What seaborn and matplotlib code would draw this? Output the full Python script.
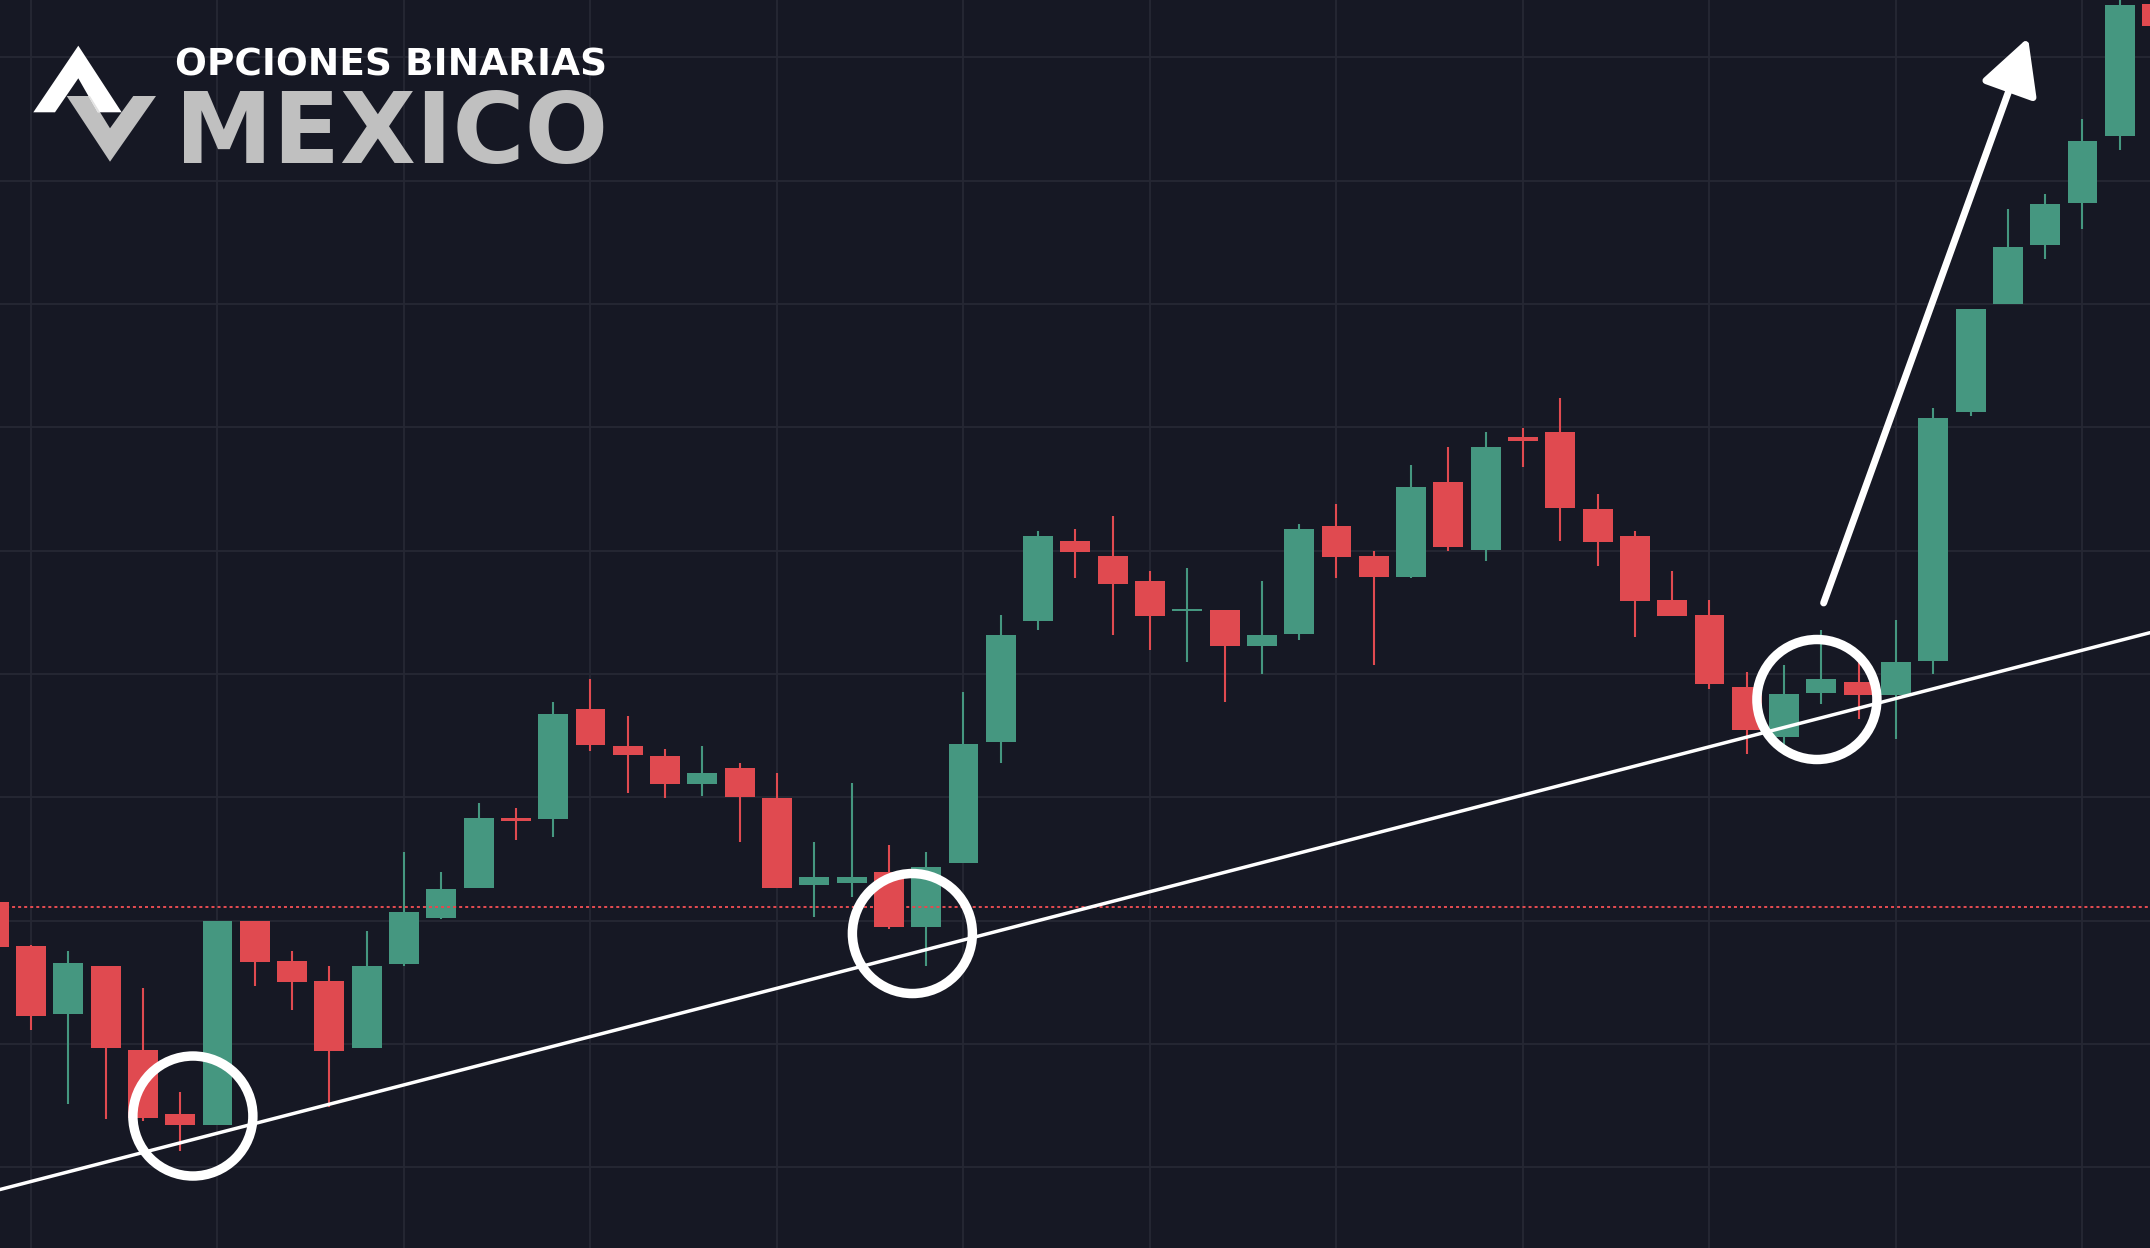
import numpy as np
import pandas as pd
import matplotlib
matplotlib.use("Agg")
import matplotlib.pyplot as plt
from matplotlib.patches import Polygon, FancyArrowPatch
import seaborn as sns

BG = "#161824"
GRID = "#262834"
GREEN = "#459780"
RED = "#e04a50"

# OHLC per candle (candle 0 is cut by the left edge)
opens = [31.51, 27.94, 22.45, 26.32, 19.51, 14.31, 13.45, 29.97, 26.72, 25.10,
         19.69, 26.50, 30.24, 32.67, 38.32, 38.26, 47.16, 44.16, 43.35, 41.10,
         42.38, 39.94, 32.91, 33.07, 33.94, 29.51, 34.70, 44.51, 54.32, 60.79,
         59.57, 57.54, 55.13, 55.19, 52.30, 53.27, 62.00, 59.57, 57.89, 65.57,
         60.08, 69.22, 69.63, 63.38, 61.19, 56.00, 54.79, 48.95, 44.91, 48.48,
         49.35, 48.32, 51.08, 71.21, 80.03, 84.78, 88.19, 93.60, 104.30]
highs = [31.80, 28.00, 27.53, 26.32, 24.53, 16.10, 29.97, 29.97, 27.53, 26.32,
         29.16, 35.56, 33.94, 39.54, 39.13, 47.73, 49.59, 46.59, 43.92, 44.16,
         42.78, 41.97, 36.37, 41.16, 36.13, 35.56, 48.54, 54.79, 61.60, 61.76,
         62.81, 58.35, 58.60, 55.19, 57.54, 62.17, 63.79, 59.98, 66.95, 68.41,
         69.63, 69.95, 72.38, 64.60, 61.60, 58.35, 56.00, 50.16, 50.73, 53.57,
         50.97, 54.38, 71.57, 79.64, 87.68, 88.90, 95.01, 105.50, 106.00]
lows = [27.60, 21.13, 15.15, 13.93, 13.77, 11.34, 13.45, 24.72, 22.77, 14.91,
        19.69, 26.34, 30.15, 32.67, 36.56, 36.80, 43.78, 40.37, 39.97, 40.13,
        36.40, 32.67, 30.32, 31.94, 29.30, 26.34, 34.70, 42.81, 53.59, 57.81,
        53.19, 51.97, 51.00, 47.75, 50.02, 52.78, 57.81, 50.75, 57.81, 60.00,
        59.19, 66.81, 60.81, 58.78, 53.03, 54.73, 48.81, 43.54, 44.10, 47.59,
        46.37, 44.75, 50.02, 70.90, 80.03, 83.68, 86.08, 92.47, 102.00]
closes = [27.88, 22.29, 26.56, 19.69, 14.01, 13.45, 29.97, 26.67, 25.04, 19.45,
          26.32, 30.70, 32.56, 38.32, 38.10, 46.76, 44.27, 43.46, 41.10, 41.97,
          40.05, 32.67, 33.54, 33.54, 29.51, 34.35, 44.32, 53.16, 61.19, 59.92,
          57.32, 54.73, 55.27, 52.30, 53.16, 61.76, 59.51, 57.89, 65.17, 60.32,
          68.41, 68.92, 63.49, 60.73, 55.94, 54.73, 49.16, 45.48, 48.38, 49.59,
          48.32, 50.97, 70.76, 79.64, 84.66, 88.08, 93.25, 104.27, 102.55]

last_price = 31.1
trend_x = [0.169, 57.81]
trend_y = [8.19, 53.35]
touch_x = [5.34, 24.63, 48.88]
touch_y = [14.15, 28.95, 47.93]
arrow_start = (49.06, 55.76)
arrow_end = (54.54, 101.6)

df = pd.DataFrame({"open": opens, "high": highs, "low": lows, "close": closes})
df["idx"] = np.arange(len(df))
df["color"] = np.where(df["close"] >= df["open"], GREEN, RED)
df["body_lo"] = df[["open", "close"]].min(axis=1)
df["body_h"] = (df["close"] - df["open"]).abs().clip(lower=0.15)

sns.set_theme(style="dark", rc={
    "axes.facecolor": BG,
    "figure.facecolor": BG,
    "grid.color": GRID,
    "axes.edgecolor": BG,
})
plt.rcParams["font.family"] = ["DejaVu Sans"]

fig = plt.figure(figsize=(21.5, 12.48), dpi=100)
ax = fig.add_axes([0, 0, 1, 1])

ax.set_xlim(0.169, 57.81)
ax.set_ylim(3.447, 104.66)
ax.set_xticks(np.arange(1, 58, 5))
ax.set_yticks(np.arange(10, 101, 10))
ax.grid(True, color=GRID, lw=1.3)
ax.set_axisbelow(True)
ax.tick_params(length=0, labelbottom=False, labelleft=False)
for s in ax.spines.values():
    s.set_visible(False)

# candles
ax.vlines(df["idx"], df["low"], df["high"], colors=df["color"], lw=1.5, zorder=2)
ax.bar(df["idx"], df["body_h"], bottom=df["body_lo"], width=0.8,
       color=df["color"], linewidth=0, zorder=3)

# last price line
ax.axhline(last_price, color=RED, lw=1.45, linestyle=(0, (1.5, 1.5)), zorder=3.5)

# support line + touches
sns.lineplot(x=trend_x, y=trend_y, color="white", lw=2.5, ax=ax, zorder=4)
ax.scatter(touch_x, touch_y, s=7465, facecolors="none", edgecolors="white",
           linewidths=6.8, zorder=5)

arrow = FancyArrowPatch(arrow_start, arrow_end,
                        arrowstyle="-|>,head_length=34,head_width=18",
                        mutation_scale=1, lw=5, color="white",
                        shrinkA=0, shrinkB=0, zorder=6)
ax.add_patch(arrow)

# logo, drawn in pixel coords
lax = fig.add_axes([0, 0, 1, 1], zorder=10)
lax.set_xlim(0, 2150)
lax.set_ylim(1248, 0)
lax.axis("off")
lax.patch.set_alpha(0)

a_pts = [(78.3, 45.7), (33.3, 112.3), (55, 112.3), (78.3, 78.3), (97.7, 112.3), (121.7, 112.3)]
v_pts = [(66.7, 96), (90, 96), (110, 128.3), (133.3, 96), (156, 96), (110, 161.7)]
v_shape = Polygon(v_pts, closed=True, color="#c0c0c0", lw=0)
lax.add_patch(v_shape)
lax.add_patch(Polygon(a_pts, closed=True, color="white", lw=0))
overlap = Polygon(a_pts, closed=True, color="#e2e2e2", lw=0)
lax.add_patch(overlap)
overlap.set_clip_path(v_shape)

renderer = fig.canvas.get_renderer()


def fit_text(x, y, s, width_px, **kw):
    t = lax.text(x, y, s, fontsize=20, va="baseline", ha="left", **kw)
    w = t.get_window_extent(renderer=renderer).width
    t.set_fontsize(20 * width_px / w)
    return t


fit_text(175, 75, "OPCIONES BINARIAS", 430, color="white", fontweight="bold")
fit_text(175, 162.5, "MEXICO", 432, color="#c0c0c0", fontweight="bold")

fig.savefig("out.png", dpi=100, facecolor=BG)
